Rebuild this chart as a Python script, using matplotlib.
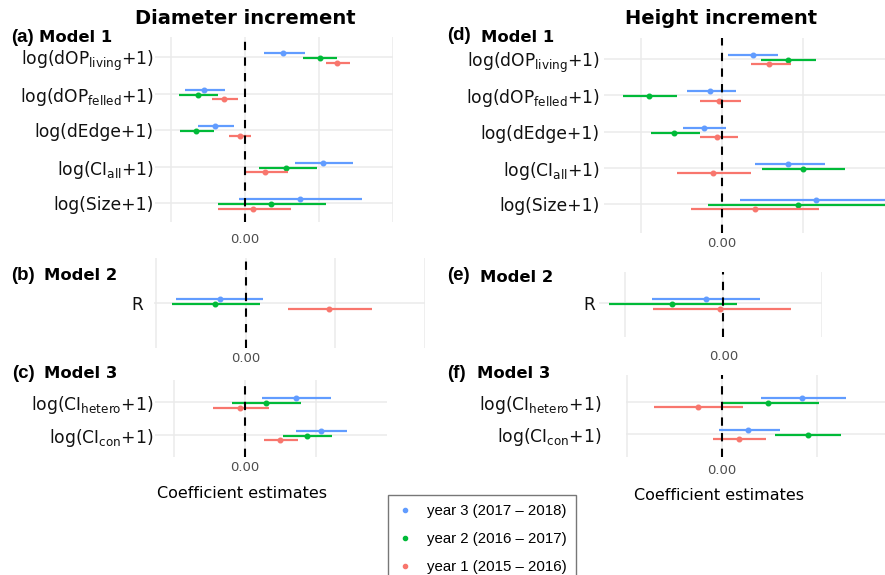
import matplotlib.pyplot as plt
from matplotlib.lines import Line2D

W, H = 885, 575

# colours of the three years
c_y3 = '#619CFF'
c_y2 = '#00BA38'
c_y1 = '#F8766D'
years = ['year 3 (2017 – 2018)', 'year 2 (2016 – 2017)', 'year 1 (2015 – 2016)']

# row labels
m1_rows = [r'log(dOP$_{\mathrm{living}}$+1)', r'log(dOP$_{\mathrm{felled}}$+1)',
           r'log(dEdge+1)', r'log(CI$_{\mathrm{all}}$+1)', r'log(Size+1)']
m2_rows = ['R']
m3_rows = [r'log(CI$_{\mathrm{hetero}}$+1)', r'log(CI$_{\mathrm{con}}$+1)']

# coefficient estimates as (low, estimate, high), one tuple per row
# diameter increment
dia_m1_y3 = [(0.26, 0.52, 0.81), (-0.81, -0.55, -0.27), (-0.63, -0.40, -0.15), (0.68, 1.06, 1.46), (-0.08, 0.75, 1.58)]
dia_m1_y2 = [(0.78, 1.02, 1.25), (-0.89, -0.63, -0.36), (-0.87, -0.66, -0.42), (0.19, 0.56, 0.97), (-0.36, 0.36, 1.10)]
dia_m1_y1 = [(1.09, 1.25, 1.42), (-0.44, -0.28, -0.09), (-0.21, -0.07, 0.09), (-0.01, 0.28, 0.59), (-0.36, 0.11, 0.62)]
dia_m2_y3 = [(-0.77, -0.29, 0.20)]
dia_m2_y2 = [(-0.82, -0.34, 0.16)]
dia_m2_y1 = [(0.47, 0.93, 1.41)]
dia_m3_y3 = [(0.24, 0.71, 1.21), (0.71, 1.06, 1.43)]
dia_m3_y2 = [(-0.18, 0.29, 0.79), (0.54, 0.87, 1.22)]
dia_m3_y1 = [(-0.45, -0.07, 0.33), (0.26, 0.49, 0.74)]
# height increment
hgt_m1_y3 = [(0.07, 0.38, 0.69), (-0.44, -0.15, 0.17), (-0.49, -0.23, 0.05), (0.40, 0.81, 1.27), (0.22, 1.16, 2.10)]
hgt_m1_y2 = [(0.48, 0.81, 1.16), (-1.23, -0.90, -0.56), (-0.88, -0.59, -0.28), (0.49, 1.00, 1.52), (-0.17, 0.94, 2.05)]
hgt_m1_y1 = [(0.35, 0.58, 0.85), (-0.28, -0.04, 0.23), (-0.27, -0.06, 0.19), (-0.56, -0.11, 0.35), (-0.38, 0.40, 1.20)]
hgt_m2_y3 = [(-0.72, -0.18, 0.37)]
hgt_m2_y2 = [(-1.16, -0.52, 0.14)]
hgt_m2_y1 = [(-0.71, -0.03, 0.69)]
hgt_m3_y3 = [(0.41, 0.85, 1.31), (-0.03, 0.28, 0.61)]
hgt_m3_y2 = [(0.00, 0.49, 1.02), (0.56, 0.91, 1.26)]
hgt_m3_y1 = [(-0.71, -0.25, 0.22), (-0.09, 0.18, 0.47)]


def box(l, t, r, b):
    return [l / W, 1 - b / H, (r - l) / W, (b - t) / H]


fig = plt.figure(figsize=(W / 100, H / 100), dpi=100)


def panel(rect, rows, series, xlim, ylim, grid, row_px, ypad, xpad):
    ax = fig.add_axes(rect)
    offs = [-4, 1, 5.5]
    for (vals, col), off in zip(series, offs):
        for i, (lo, est, hi) in enumerate(vals):
            y = i + off / row_px
            ax.hlines(y, lo, hi, color=col, lw=1.6, zorder=2)
            ax.plot(est, y, 'o', color=col, ms=3.3, zorder=2)
    ax.axvline(0, color='black', ls=(0, (4, 3.5)), lw=1.5, zorder=3)
    ax.set_xlim(*xlim)
    ax.set_ylim(*ylim)
    ax.set_xticks(grid)
    ax.set_xticklabels(['0.00' if g == 0 else '' for g in grid])
    ax.set_yticks(range(len(rows)))
    ax.set_yticklabels(rows)
    ax.tick_params(axis='y', length=0, pad=ypad, labelsize=12.3, labelcolor='#111111')
    ax.tick_params(axis='x', length=0, pad=xpad, labelsize=9.5, labelcolor='#4D4D4D')
    ax.grid(True, color='#EBEBEB', lw=1.1, zorder=0)
    for s in ax.spines.values():
        s.set_visible(False)
    return ax


panel(box(155, 37, 393, 222), m1_rows,
      [(dia_m1_y3, c_y3), (dia_m1_y2, c_y2), (dia_m1_y1, c_y1)],
      (-1.21, 2.0), (4.52, -0.55), [-1, 0, 1, 2], 36.5, 1, 8)
panel(box(154, 258, 425, 348), m2_rows,
      [(dia_m2_y3, c_y3), (dia_m2_y2, c_y2), (dia_m2_y1, c_y1)],
      (-1.02, 2.0), (1.25, -1.25), [-1, 0, 1, 2], 36, 8, 3)
panel(box(155, 380, 387, 457), m3_rows,
      [(dia_m3_y3, c_y3), (dia_m3_y2, c_y2), (dia_m3_y1, c_y1)],
      (-1.26, 1.99), (1.67, -0.67), [-1, 0, 1], 33, 1, 3)
panel(box(604, 38, 885, 233), m1_rows,
      [(hgt_m1_y3, c_y3), (hgt_m1_y2, c_y2), (hgt_m1_y1, c_y1)],
      (-1.46, 2.01), (4.8, -0.58), [-1, 0, 1], 36.4, 3, 3)
panel(box(599, 272, 822, 337), m2_rows,
      [(hgt_m2_y3, c_y3), (hgt_m2_y2, c_y2), (hgt_m2_y1, c_y1)],
      (-1.26, 1.0), (0.94, -0.86), [-1, 0, 1], 36, 3, 9)
panel(box(626, 375, 885, 457), m3_rows,
      [(hgt_m3_y3, c_y3), (hgt_m3_y2, c_y2), (hgt_m3_y1, c_y1)],
      (-1.01, 1.72), (1.72, -0.84), [-1, 0, 1], 32, 18, 5)

# titles
fig.text(245 / W, 1 - 19 / H, 'Diameter increment', ha='center', va='center',
         fontsize=14, fontweight='bold')
fig.text(721 / W, 1 - 18 / H, 'Height increment', ha='center', va='center',
         fontsize=14, fontweight='bold')

# panel tags
tags = [('(a)', 'Model 1', 11, 39, 37), ('(b)', 'Model 2', 11, 44, 275), ('(c)', 'Model 3', 12, 44, 373),
        ('(d)', 'Model 1', 447, 481, 36), ('(e)', 'Model 2', 447, 480, 276), ('(f)', 'Model 3', 447, 477, 373)]
for tag, model, xt, xm, yy in tags:
    fig.text(xt / W, 1 - yy / H, tag, ha='left', va='center', fontsize=13.5,
             fontweight='bold', family='Liberation Sans')
    fig.text(xm / W, 1 - (yy + 1) / H, model, ha='left', va='center', fontsize=11.8,
             fontweight='bold')

fig.text(242 / W, 1 - 493 / H, 'Coefficient estimates', ha='center', va='center', fontsize=11.5)
fig.text(719 / W, 1 - 495 / H, 'Coefficient estimates', ha='center', va='center', fontsize=11.5)

handles = [Line2D([], [], ls='none', marker='o', ms=3, color=c) for c in (c_y3, c_y2, c_y1)]
leg = fig.legend(handles, years, loc='upper left', bbox_to_anchor=(388 / W, 1 - 495 / H),
                 borderaxespad=0, frameon=True, fancybox=False, edgecolor='#555555',
                 prop={'family': 'Liberation Sans', 'size': 10.8}, handlelength=1.0,
                 handletextpad=1.0, borderpad=0.6, labelspacing=0.95)
leg.get_frame().set_linewidth(1.0)

fig.savefig('out.png', dpi=100)
